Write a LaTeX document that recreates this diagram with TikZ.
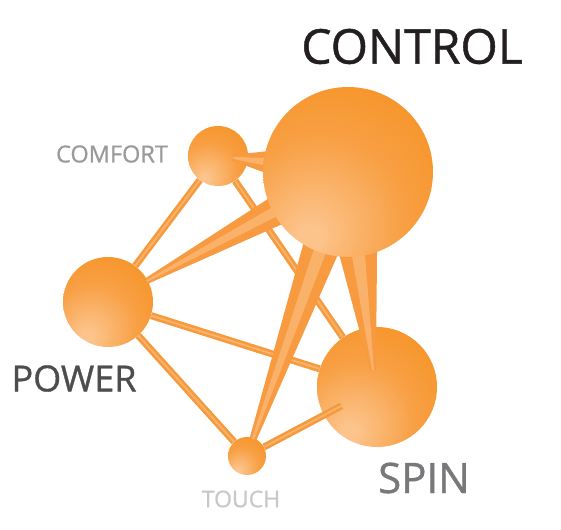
\documentclass[tikz,border=0pt]{standalone}
\usepackage{fontspec}
\usetikzlibrary{calc}
\newfontfamily\labelfont[FakeBold=0.9]{Open Sans}
\definecolor{orbdark}{HTML}{F68C15}
\definecolor{orbmid}{HTML}{F8A045}
\definecolor{orblight}{HTML}{FCC48C}
\definecolor{roddark}{HTML}{F69A3E}
\definecolor{rodlight}{HTML}{F9B36C}
\definecolor{conefill}{HTML}{F79A40}
\definecolor{conelight}{HTML}{FAB26A}
\definecolor{txtcontrol}{HTML}{231F20}
\definecolor{txtpower}{HTML}{4D4D4F}
\definecolor{txtspin}{HTML}{78787B}
\definecolor{txtcomfort}{HTML}{9A9A9C}
\definecolor{txttouch}{HTML}{C8C8CA}
\pgfdeclareradialshading{orb}{\pgfpoint{-12bp}{-20bp}}{color(0bp)=(orblight); color(3bp)=(orblight); color(24bp)=(orbmid); color(50bp)=(orbdark); color(80bp)=(orbdark)}
\pgfdeclarelayer{links}
\pgfdeclarelayer{hub}
\pgfsetlayers{main,links,hub}
\tikzset{
  ball/.style={circle, inner sep=0pt, shading=orb, minimum size=#1},
  rod/.style={draw=roddark, line width=2.6pt, double=rodlight, double distance=1.8pt},
  lbl/.style={inner sep=0pt, anchor=center}
}
% tapered link: from node #1 to point #2, half width #3 at #1, #4 at #2
\def\cone(#1)(#2)(#3:#4){\fill[conefill] ($(#1.center)!#3!90:(#2.center)$) -- ($(#2.center)!#4!-90:(#1.center)$) -- ($(#2.center)!#4!90:(#1.center)$) -- ($(#1.center)!#3!-90:(#2.center)$) -- cycle;
\fill[conelight] ($(#1.center)!0.35*#3!90:(#2.center)$) -- ($(#2)!0.35*#4!-90:(#1.center)$) -- ($(#2)!0.35*#4!90:(#1.center)$) -- ($(#1.center)!0.35*#3!-90:(#2.center)$) -- cycle;}

\begin{document}
\begin{tikzpicture}[x=1pt, y=-1pt]
			%%%%% BALLS %%%%%
			\useasboundingbox (0, 0) rectangle (561, 529);
			
			\node[ball=60pt] (comfort) at (218, 156) {};
			\node[ball=90pt] (power) at (108, 302) {};
			\node[ball=120pt] (spin) at (377, 387) {};
			\node[ball=38pt] (touch) at (247, 456) {};
			\begin{pgfonlayer}{hub}
			\node[ball=170pt] (control) at (348, 172) {};
			\end{pgfonlayer}
			
			%%%%% LINKS %%%%%
			\begin{pgfonlayer}{links}
			\draw[rod] (comfort) -- (power);
			\draw[rod] (comfort) -- (spin);
			\draw[rod] (power) -- (spin);
			\draw[rod] (power) -- (touch);
			\draw[rod, shorten >=-20pt] (touch) -- (spin);
			
			\coordinate (tipcomfort) at ($(comfort)!15pt!(control)$);
			\coordinate (tippower) at ($(power)!44pt!(control)$);
			\coordinate (tiptouch) at ($(touch)!18pt!(control)$);
			\coordinate (tipspin) at (373, 370);
			
			\cone(control)(tipcomfort)(30pt:3pt)
			\cone(control)(tippower)(21pt:3pt)
			\cone(control)(tiptouch)(24pt:3.5pt)
			\cone(control)(tipspin)(30pt:3pt)
			\end{pgfonlayer}
			
			%%%%% LABELS %%%%%
			\node[lbl, text=txtcontrol, font=\labelfont\fontsize{48}{50}\selectfont] (lblcontrol) at (412, 46.5) {CONTROL};
			\node[lbl, text=txtcomfort, font=\labelfont\fontsize{23.5}{25}\selectfont] (lblcomfort) at (112, 154) {COMFORT};
			\node[lbl, text=txtpower, font=\labelfont\fontsize{36}{38}\selectfont] (lblpower) at (74, 378.5) {POWER};
			\node[lbl, text=txtspin, font=\labelfont\fontsize{42}{44}\selectfont] (lblspin) at (424, 478) {SPIN};
			\node[lbl, text=txttouch, font=\labelfont\fontsize{23}{25}\selectfont] (lbltouch) at (241, 499) {TOUCH};
			
		\end{tikzpicture}
\end{document}
